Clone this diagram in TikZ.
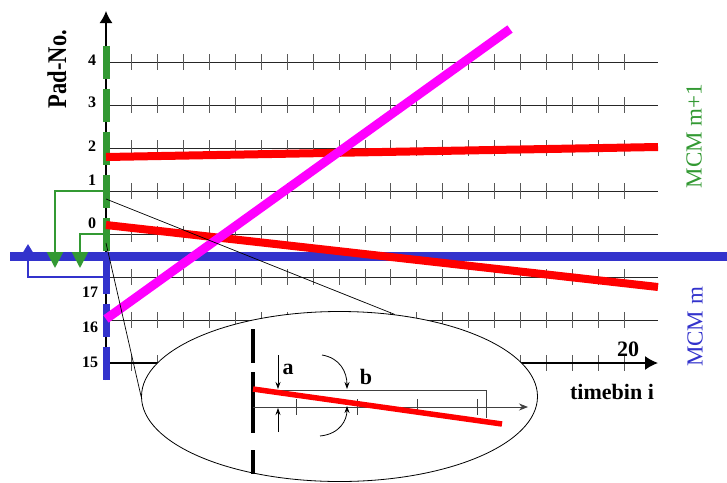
\documentclass[tikz,border=0pt]{standalone}
\usepackage{fontspec}
\setmainfont{Liberation Serif}
\usetikzlibrary{arrows.meta,shapes.geometric}
\definecolor{mgreen}{RGB}{51,153,51}
\definecolor{mblue}{RGB}{51,51,204}
\definecolor{mred}{RGB}{255,0,0}
\definecolor{mmag}{RGB}{255,0,255}
\begin{document}
\begin{tikzpicture}[x=1pt,y=-1pt,
  gridline/.style={draw=black!85,line width=0.8pt},
  tickmark/.style={draw=black!65,line width=1pt},
  padbar/.style={line width=7pt},
  padnum/.style={font=\fontsize{16}{16}\selectfont\bfseries,inner sep=0pt},
  biglabel/.style={font=\fontsize{22}{22}\selectfont\bfseries,inner sep=0pt},
  mcmlabel/.style={rotate=90,font=\fontsize{23}{23}\selectfont,inner sep=0pt},
  greenconn/.style={draw=mgreen,line width=2pt,-{Triangle[length=16pt,width=16pt]}},
  blueconn/.style={draw=mblue,line width=2pt,-{Triangle[length=8pt,width=9pt]}},
  thinline/.style={draw=black,line width=0.7pt},
  zoomaxis/.style={draw=black!75,line width=0.8pt},
  smallarrow/.style={draw=black,line width=0.8pt,-{Stealth[length=7pt,width=5pt]}},
  zlabel/.style={font=\fontsize{22}{22}\selectfont\bfseries,inner sep=0pt}]
\useasboundingbox (0,0) rectangle (727,482);

% grid rows with ticks
\foreach \y in {62,105,148,191,234,277,320}{
  \draw[gridline] (106,\y) -- (658,\y);
  \foreach \i in {1,...,20} \draw[tickmark] ({106+25.9*\i},\y-8) -- ++(0,16);
}
% timebin axis
\foreach \i in {1,...,20} \draw[tickmark] ({106+25.9*\i},355) -- ++(0,16);
\coordinate (t0) at (106,363);
\coordinate (t1) at (658,363);
\draw[line width=1.6pt,-{Latex[length=13pt,width=14pt]}] (t0) -- (t1);

% vertical axis
\coordinate (v0) at (106,380);
\coordinate (v1) at (106,11);
\draw[line width=1.5pt,-{Latex[length=12pt,width=13pt]}] (v0) -- (v1);

% pad bars
\foreach \y in {62,105,148,191,234} \draw[padbar,mgreen] (106,\y-16.5) -- (106,\y+16.5);
\foreach \y in {277,320,363} \draw[padbar,mblue] (106,\y-16.5) -- (106,\y+16.5);

% blue band
\coordinate (b0) at (10,256);
\coordinate (b1) at (727,256);
\draw[mblue,line width=9pt] (b0) -- (b1);

% connectors
\coordinate (g1) at (106,191);
\coordinate (g1t) at (55,268);
\coordinate (g0) at (106,234);
\coordinate (g0t) at (80,268);
\coordinate (bl) at (106,277);
\coordinate (blt) at (28,244);
\draw[greenconn] (g1) -| (g1t);
\draw[greenconn] (g0) -| (g0t);
\draw[blueconn] (bl) -| (blt);

% red tracks
\coordinate (r1a) at (106,157);
\coordinate (r1b) at (658,147);
\coordinate (r2a) at (106,225);
\coordinate (r2b) at (658,287);
\draw[mred,line width=8pt] (r1a) -- (r1b);
\draw[mred,line width=8pt] (r2a) -- (r2b);
% magenta track
\coordinate (ma) at (106,319);
\coordinate (mb) at (510,29);
\draw[mmag,line width=9pt] (ma) -- (mb);

% zoom ellipse
\node[ellipse,draw,fill=white,minimum width=396pt,minimum height=170pt,inner sep=0pt,line width=0.8pt] (zm) at (339.5,396.5) {};
\coordinate (z1) at (106,199);
\coordinate (z2) at (106,243);
\draw[thinline] (z1) -- (zm.56.7);
\draw[thinline] (z2) -- (zm.west);

% inside zoom
\draw[line width=4pt] (253,329) -- (253,363) (253,372) -- (253,433) (253,450) -- (253,474);
\coordinate (ra) at (253,390);
\coordinate (rb) at (486,390);
\coordinate (rc) at (486,418);
\draw[zoomaxis] (ra) -- (rb) -- (rc);
\coordinate (za) at (253,407);
\coordinate (zb) at (528,407);
\draw[zoomaxis,-{Stealth[length=9pt,width=7pt]}] (za) -- (zb);
\foreach \x in {296,357,417,477} \draw[zoomaxis] (\x,399) -- (\x,415);
\coordinate (zra) at (253,389);
\coordinate (zrb) at (502,424);
\draw[mred,line width=5.5pt] (zra) -- (zrb);
\coordinate (a1) at (278,355);
\coordinate (a1t) at (278,389);
\coordinate (a2) at (278,432);
\coordinate (a2t) at (278,408);
\draw[smallarrow] (a1) -- (a1t);
\draw[smallarrow] (a2) -- (a2t);
\coordinate (bb1) at (322,355);
\coordinate (bb1t) at (347,389);
\coordinate (bb2) at (320,436);
\coordinate (bb2t) at (347,406);
\draw[smallarrow] (bb1) .. controls (340,358) and (347,372) .. (bb1t);
\draw[smallarrow] (bb2) .. controls (340,434) and (347,420) .. (bb2t);
\node[zlabel] (la) at (288,369) {a};
\node[zlabel] (lb) at (366,377) {b};

% labels
\node[padnum] (p4) at (92,60) {4};
\node[padnum] (p3) at (92,102) {3};
\node[padnum] (p2) at (92,146) {2};
\node[padnum] (p1) at (92,180) {1};
\node[padnum] (p0) at (92,223) {0};
\node[padnum] (p17) at (90,292) {17};
\node[padnum] (p16) at (90,327) {16};
\node[padnum] (p15) at (90,362) {15};
\node[rotate=90,font=\fontsize{22.5}{22.5}\selectfont\bfseries,inner sep=0pt] (padno) at (57,69) {\scalebox{1}[1.2]{Pad-No.}};
\node[mcmlabel,text=mgreen] (mcm1) at (694,136) {MCM m+1};
\node[mcmlabel,text=mblue] (mcm0) at (695,327) {MCM m};
\node[biglabel] (tb) at (612,392) {timebin i};
\node[biglabel] (t20) at (628,349) {20};
\end{tikzpicture}
\end{document}
